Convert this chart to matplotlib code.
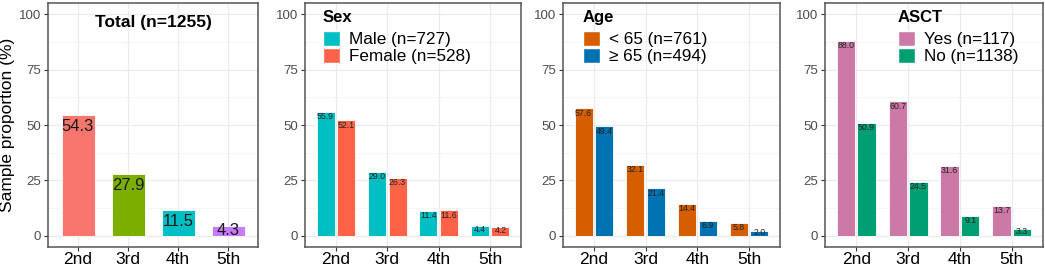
import matplotlib
matplotlib.use('Agg')
import matplotlib.pyplot as plt
from matplotlib.patches import Patch
import numpy as np

plt.rcParams['font.family'] = ['Liberation Sans', 'DejaVu Sans']

lines = ['2nd', '3rd', '4th', '5th']

# Total panel
total = [54.3, 27.9, 11.5, 4.3]
total_colors = ['#F8766D', '#7CAE00', '#00BFC4', '#C77CFF']

# Subgroup panels
sex_labels = ['Male (n=727)', 'Female (n=528)']
sex_male = [55.9, 29.0, 11.4, 4.4]
sex_female = [52.1, 26.3, 11.6, 4.2]

age_labels = ['< 65 (n=761)', '≥ 65 (n=494)']
age_young = [57.6, 32.1, 14.4, 5.8]
age_old = [49.4, 21.4, 6.9, 2.0]

asct_labels = ['Yes (n=117)', 'No (n=1138)']
asct_yes = [88.0, 60.7, 31.6, 13.7]
asct_no = [50.9, 24.5, 9.1, 3.3]

W, H = 1045, 271
fig = plt.figure(figsize=(W / 100, H / 100), dpi=100)


def make_ax(x0, x1, y0=3, y1=247):
    ax = fig.add_axes([x0 / W, 1 - y1 / H, (x1 - x0) / W, (y1 - y0) / H])
    ax.set_xlim(0.4, 4.6)
    ax.set_ylim(-5, 105)
    ax.set_yticks([0, 25, 50, 75, 100])
    ax.set_yticks([12.5, 37.5, 62.5, 87.5], minor=True)
    ax.set_xticks([1, 2, 3, 4])
    ax.set_xticklabels(lines, fontsize=12.5, color='black')
    ax.tick_params(axis='y', which='major', labelsize=9.5, labelcolor='#4D4D4D',
                   color='#333333', length=3, width=0.8, pad=2)
    ax.tick_params(axis='y', which='minor', length=0)
    ax.tick_params(axis='x', color='#333333', length=3, width=0.8, pad=0.5)
    ax.grid(True, which='major', color='#EBEBEB', linewidth=0.9)
    ax.grid(True, which='minor', axis='y', color='#F2F2F2', linewidth=0.5)
    ax.set_axisbelow(True)
    for s in ax.spines.values():
        s.set_color('#555555')
        s.set_linewidth(1.1)
    return ax


x = np.arange(1, 5)

# Panel 1: Total
ax1 = make_ax(48, 258)
ax1.bar(x, total, width=0.66, color=total_colors, edgecolor='white', linewidth=0.6)
for xi, v in zip(x, total):
    ax1.text(xi, max(v - 5, v / 2 + 0.5), f'{v:.1f}', ha='center', va='center',
             fontsize=12, color='#1a1a1a')
ax1.set_ylabel('Sample proportion (%)', fontsize=12.5, labelpad=3)
ax1.text(0.5, 0.95, 'Total (n=1255)', transform=ax1.transAxes, ha='center', va='top',
         fontsize=12.5, fontweight='bold')


def dodge_panel(x0, x1, a, b, ca, cb, title, labels, leg_x):
    ax = make_ax(x0, x1)
    for vals, col, off in [(a, ca, -0.2), (b, cb, 0.2)]:
        ax.bar(x + off, vals, width=0.35, color=col, edgecolor='white', linewidth=0.6)
        for xi, v in zip(x + off, vals):
            ax.text(xi, max(v - 2.2, v / 2 + 0.5), f'{v:.1f}', ha='center', va='center',
                    fontsize=6.3, color='#222222')
    handles = [Patch(facecolor=ca, edgecolor='white'), Patch(facecolor=cb, edgecolor='white')]
    leg = ax.legend(handles, labels, title=title, loc='upper left',
                    bbox_to_anchor=((leg_x - x0) / (x1 - x0), (247 - 10) / 244),
                    frameon=False, fontsize=12.3,
                    title_fontproperties={'weight': 'bold', 'size': 12},
                    handlelength=1.0, handleheight=1.0, handletextpad=0.55,
                    labelspacing=0.05, borderaxespad=0, borderpad=0)
    leg._legend_box.align = 'left'
    leg._legend_box.sep = 4
    return ax


dodge_panel(305, 521, sex_male, sex_female, '#00BFC4', '#FF6347', 'Sex', sex_labels, 323)
dodge_panel(563, 780, age_young, age_old, '#D55E00', '#0072B2', 'Age', age_labels, 583)
dodge_panel(825, 1043, asct_yes, asct_no, '#CC79A7', '#009E73', 'ASCT', asct_labels, 898)

fig.savefig('out.png', dpi=100)
